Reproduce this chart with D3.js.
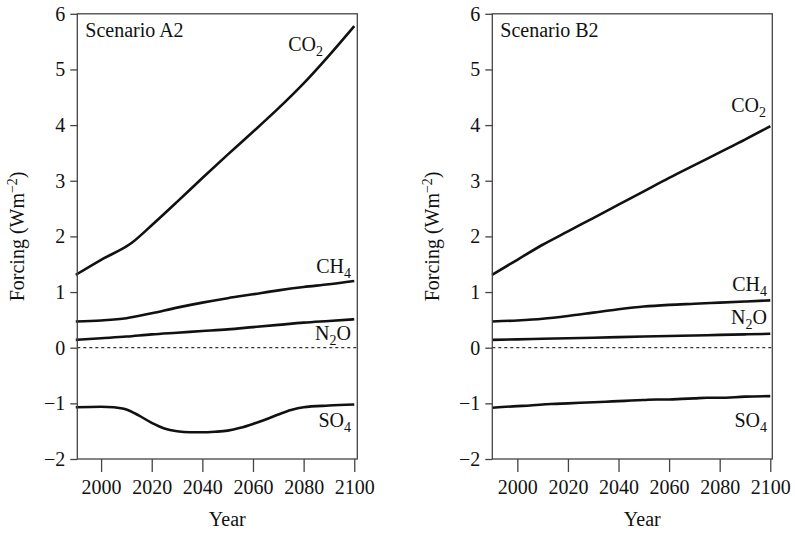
<!DOCTYPE html>
<html>
<head>
<meta charset="utf-8" />
<title>Forcing scenarios</title>
<script type="text/javascript" src="https://d3js.org/d3.v7.min.js"></script>
<style>
  body { margin: 0; background: #fff; }
  svg text { font-family: "Liberation Serif", "Times New Roman", Times, "DejaVu Serif", serif !important; fill: #111; }
  .line { fill: none; stroke: #111; stroke-width: 2.6px; stroke-linejoin: round; }
  .zero { stroke: #333; stroke-width: 1.2px; stroke-dasharray: 3,3; }
  .frame { fill: none; stroke: #444; stroke-width: 1.3px; }
</style>
</head>
<body>
<script type="text/javascript">
// years for the smooth forcing curves
var years = [1990, 2000, 2010, 2020, 2030, 2040, 2050, 2060, 2070, 2080, 2090, 2100];
var a2CO2Years = [1990, 2000, 2012, 2020, 2030, 2040, 2050, 2060, 2070, 2080, 2090, 2100];
var so4Years = [1990, 2000, 2005, 2010, 2015, 2020, 2025, 2030, 2035, 2040, 2045, 2050,
                2055, 2060, 2065, 2070, 2075, 2080, 2090, 2100];

// Scenario A2
var a2CO2 = [1.31, 1.58, 1.88, 2.20, 2.62, 3.05, 3.47, 3.88, 4.30, 4.75, 5.25, 5.78];
var a2CH4 = [0.47, 0.49, 0.53, 0.62, 0.72, 0.81, 0.89, 0.96, 1.03, 1.09, 1.14, 1.20];
var a2N2O = [0.14, 0.17, 0.20, 0.24, 0.27, 0.30, 0.33, 0.37, 0.41, 0.45, 0.48, 0.51];
var a2SO4 = [-1.07, -1.06, -1.07, -1.11, -1.22, -1.35, -1.45, -1.50, -1.52, -1.52, -1.51, -1.49,
             -1.44, -1.37, -1.29, -1.20, -1.12, -1.07, -1.04, -1.02];

// Scenario B2
var b2CO2 = [1.31, 1.58, 1.85, 2.09, 2.33, 2.57, 2.81, 3.05, 3.28, 3.51, 3.74, 3.98];
var b2CH4 = [0.47, 0.49, 0.52, 0.57, 0.63, 0.69, 0.74, 0.77, 0.79, 0.81, 0.83, 0.85];
var b2N2O = [0.14, 0.15, 0.16, 0.17, 0.18, 0.19, 0.20, 0.21, 0.22, 0.23, 0.24, 0.25];
var b2SO4 = [-1.08, -1.05, -1.04, -1.02, -1.01, -1.00, -0.99, -0.98, -0.97, -0.96, -0.95, -0.94,
             -0.93, -0.93, -0.92, -0.91, -0.90, -0.90, -0.88, -0.87];

var xTicks = [2000, 2020, 2040, 2060, 2080, 2100];
var yTicks = [-2, -1, 0, 1, 2, 3, 4, 5, 6];

var W = 795, H = 533;
var svg = d3.select("body").append("svg").attr("width", W).attr("height", H);

var y = d3.scaleLinear().domain([-2, 6]).range([459, 13.8]);

function panel(left, right, xDomain, title, series) {
    var x = d3.scaleLinear().domain(xDomain).range([left, right]);
    var g = svg.append("g");

    // dotted zero line
    g.append("line").attr("class", "zero")
        .attr("x1", left).attr("x2", right)
        .attr("y1", y(0)).attr("y2", y(0));

    var line = d3.line()
        .x(function(d) { return x(d[0]); })
        .y(function(d) { return y(d[1]); })
        .curve(d3.curveMonotoneX);

    series.forEach(function(s) {
        var pts = s.years.map(function(yr, i) { return [yr, s.values[i]]; });
        g.append("path").datum(pts).attr("class", "line").attr("d", line);

        var t = g.append("text")
            .attr("x", s.lx).attr("y", s.ly)
            .attr("text-anchor", "end")
            .style("font-size", "20px");
        t.append("tspan").text(s.name);
        t.append("tspan").attr("dy", 5).style("font-size", "14px").text(s.sub);
        if (s.after) t.append("tspan").attr("dy", -5).text(s.after);
    });

    // axes
    var ax = g.append("g").attr("transform", "translate(0," + y(-2) + ")")
        .call(d3.axisBottom(x).tickValues(xTicks).tickFormat(d3.format("d")).tickSize(13).tickPadding(8));
    var ay = g.append("g").attr("transform", "translate(" + left + ",0)")
        .call(d3.axisLeft(y).tickValues(yTicks).tickSize(7).tickPadding(5));
    [ax, ay].forEach(function(a) {
        a.attr("font-family", null);
        a.select(".domain").remove();
        a.selectAll("line").attr("stroke", "#444").attr("stroke-width", 1.3);
        a.selectAll("text").style("font-size", "20px").attr("fill", "#111");
    });

    g.append("rect").attr("class", "frame")
        .attr("x", left).attr("y", y(6))
        .attr("width", right - left).attr("height", y(-2) - y(6));

    g.append("text").attr("x", left + 8).attr("y", 37)
        .style("font-size", "20px").text(title);

    g.append("text").attr("x", (left + right) / 2 + 10).attr("y", 526)
        .attr("text-anchor", "middle").style("font-size", "20px").text("Year");

    var yl = g.append("text")
        .attr("transform", "translate(" + (left - 53) + "," + ((y(6) + y(-2)) / 2) + ") rotate(-90)")
        .attr("text-anchor", "middle").style("font-size", "20px");
    yl.append("tspan").text("Forcing (Wm");
    yl.append("tspan").attr("dy", -7).style("font-size", "14px").text("−2");
    yl.append("tspan").attr("dy", 7).text(")");
}

panel(77.3, 357.3, [1990.6, 2101.2], "Scenario A2", [
    {years: a2CO2Years, values: a2CO2, name: "CO", sub: "2", lx: 323, ly: 51},
    {years: years, values: a2CH4, name: "CH", sub: "4", lx: 351, ly: 273},
    {years: years, values: a2N2O, name: "N", sub: "2", after: "O", lx: 351, ly: 340},
    {years: so4Years, values: a2SO4, name: "SO", sub: "4", lx: 351, ly: 427}
]);

panel(492.3, 772.3, [1990.1, 2100.8], "Scenario B2", [
    {years: years, values: b2CO2, name: "CO", sub: "2", lx: 766, ly: 112},
    {years: years, values: b2CH4, name: "CH", sub: "4", lx: 767, ly: 291},
    {years: years, values: b2N2O, name: "N", sub: "2", after: "O", lx: 767, ly: 324},
    {years: so4Years, values: b2SO4, name: "SO", sub: "4", lx: 767, ly: 427}
]);
</script>
</body>
</html>
